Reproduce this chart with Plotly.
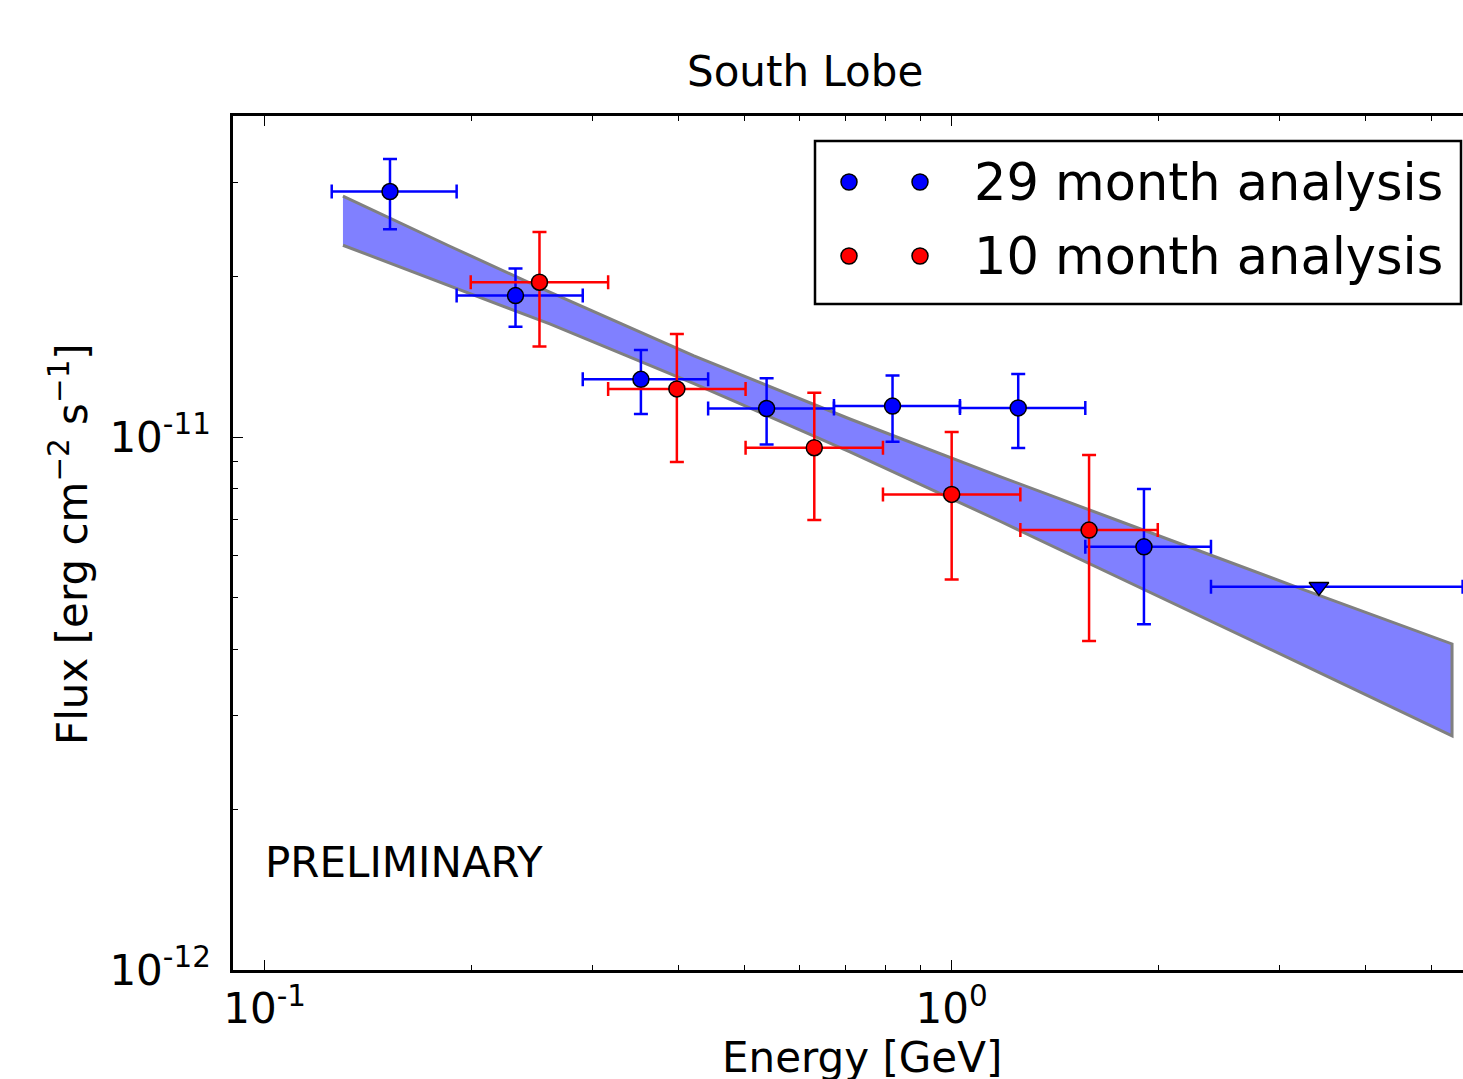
import plotly.graph_objects as go

# ---- 29 month analysis (energy in GeV, flux in erg cm^-2 s^-1) ----
e29 = [0.1522, 0.2318, 0.3529, 0.5378, 0.8202, 1.2499, 1.905]
e29_lo = [0.1252, 0.1903, 0.2904, 0.4421, 0.6740, 1.0282, 1.5650]
e29_hi = [0.1903, 0.2904, 0.4421, 0.6740, 1.0282, 1.5650, 2.3848]
f29 = [2.888e-11, 1.842e-11, 1.283e-11, 1.131e-11, 1.143e-11, 1.134e-11, 6.222e-12]
f29_lo = [2.455e-11, 1.611e-11, 1.105e-11, 9.681e-12, 9.799e-12, 9.536e-12, 4.455e-12]
f29_hi = [3.323e-11, 2.071e-11, 1.457e-11, 1.289e-11, 1.304e-11, 1.313e-11, 7.987e-12]

# upper limit (29 month)
e29_ul = [3.4245]
e29_ul_lo = [2.3848]
e29_ul_hi = [5.543]
f29_ul = [5.234e-12]

# ---- 10 month analysis ----
e10 = [0.2512, 0.3981, 0.6310, 1.0, 1.5849]
e10_lo = [0.1995, 0.3162, 0.5012, 0.7943, 1.2589]
e10_hi = [0.3162, 0.5012, 0.7943, 1.2589, 1.9953]
f10 = [1.952e-11, 1.231e-11, 9.548e-12, 7.805e-12, 6.689e-12]
f10_lo = [1.478e-11, 8.976e-12, 6.985e-12, 5.404e-12, 4.144e-12]
f10_hi = [2.424e-11, 1.561e-11, 1.211e-11, 1.022e-11, 9.252e-12]

# ---- fit band (butterfly) edges ----
band_e = [0.130, 0.186, 0.260, 0.4216, 0.711, 1.176, 1.944, 3.214, 5.35]
band_hi = [2.83e-11, 2.28e-11, 1.87e-11, 1.42e-11, 1.081e-11, 8.43e-12, 6.62e-12, 5.20e-12, 4.09e-12]
band_lo = [2.29e-11, 1.92e-11, 1.63e-11, 1.26e-11, 9.38e-12, 6.95e-12, 5.12e-12, 3.76e-12, 2.75e-12]

x_tickvals = [0.1, 1.0]
x_ticktext = ["10<sup>-1</sup>", "10<sup>0</sup>"]
y_tickvals = [1e-12, 1e-11]
y_ticktext = ["10<sup>-12</sup>", "10<sup>-11</sup>"]

legend_labels = ["29 month analysis", "10 month analysis"]

FONT = "DejaVu Sans"
BLUE = "#0000ff"
RED = "#ff0000"


def plus(v, hi):
    return [h - x for x, h in zip(v, hi)]


def minus(v, lo):
    return [x - l for x, l in zip(v, lo)]


fig = go.Figure()

# band
fig.add_trace(go.Scatter(
    x=band_e + band_e[::-1], y=band_hi + band_lo[::-1],
    mode="lines", fill="toself", fillcolor="#8080ff",
    line=dict(color="#808080", width=3), showlegend=False, hoverinfo="skip"))


def pts(x, xlo, xhi, y, ylo, yhi, color, name):
    return go.Scatter(
        x=x, y=y, mode="markers", name=name, showlegend=False,
        marker=dict(symbol="circle", size=16, color=color, line=dict(color="black", width=1.5)),
        error_x=dict(type="data", symmetric=False, array=plus(x, xhi), arrayminus=minus(x, xlo),
                     color=color, thickness=2.5, width=7),
        error_y=dict(type="data", symmetric=False, array=plus(y, yhi), arrayminus=minus(y, ylo),
                     color=color, thickness=2.5, width=7))


fig.add_trace(pts(e29, e29_lo, e29_hi, f29, f29_lo, f29_hi, BLUE, legend_labels[0]))
fig.add_trace(go.Scatter(
    x=e29_ul, y=f29_ul, mode="markers", showlegend=False,
    marker=dict(symbol="triangle-down", size=17, color=BLUE, line=dict(color="black", width=1.5)),
    error_x=dict(type="data", symmetric=False, array=plus(e29_ul, e29_ul_hi),
                 arrayminus=minus(e29_ul, e29_ul_lo), color=BLUE, thickness=2.5, width=7)))
fig.add_trace(pts(e10, e10_lo, e10_hi, f10, f10_lo, f10_hi, RED, legend_labels[1]))

# legend markers on a pixel-like overlay axis
leg_colors = [BLUE, RED]
leg_y = [182, 256]
for c, yy in zip(leg_colors, leg_y):
    fig.add_trace(go.Scatter(
        x=[849, 920], y=[yy, yy], xaxis="x2", yaxis="y2", mode="markers", showlegend=False,
        marker=dict(symbol="circle", size=16, color=c, line=dict(color="black", width=1.5)),
        hoverinfo="skip"))

W, H = 1463, 1079
L, R, T, B = 233, 0, 116, 109


def px(xp):
    return (xp - L) / (W - L - R)


def py(yp):
    return (H - B - yp) / (H - B - T)


minor_x = [m * 10 ** d for d in (-2, -1, 0) for m in range(2, 10)]
minor_y = [m * 10 ** d for d in (-13, -12, -11) for m in range(2, 10)]

axis_common = dict(
    type="log", showline=True, linecolor="black", linewidth=2.5,
    ticks="inside", ticklen=10, tickwidth=1, tickcolor="black",
    showgrid=False, zeroline=False,
    tickfont=dict(family=FONT, size=42, color="black"),
)

fig.update_layout(
    width=W, height=H,
    margin=dict(l=L, r=R, t=T, b=B),
    paper_bgcolor="white", plot_bgcolor="white",
    showlegend=False,
    xaxis=dict(axis_common, range=[-1.0461, 0.7443], mirror="allticks",
               tickmode="array", tickvals=x_tickvals, ticktext=x_ticktext,
               minor=dict(tickmode="array", tickvals=minor_x, ticks="inside", ticklen=5,
                          tickwidth=1, tickcolor="black", showgrid=False)),
    yaxis=dict(axis_common, range=[-12, -10.3977], mirror=False,
               tickmode="array", tickvals=y_tickvals, ticktext=y_ticktext,
               ticklabelstandoff=11,
               minor=dict(tickmode="array", tickvals=minor_y, ticks="inside", ticklen=5,
                          tickwidth=1, tickcolor="black", showgrid=False)),
    xaxis2=dict(overlaying="x", anchor="y2", range=[L, W - R], visible=False, fixedrange=True),
    yaxis2=dict(overlaying="y", anchor="x2", range=[H - B, T], visible=False, fixedrange=True),
    font=dict(family=FONT, color="black"),
)

# legend frame
fig.add_shape(type="rect", xref="x2", yref="y2", x0=815, x1=1461, y0=141, y1=304,
              line=dict(color="black", width=2.5), fillcolor="white", layer="below")

annots = []
for lab, yy in zip(legend_labels, leg_y):
    annots.append(dict(x=972, y=yy, xref="x2", yref="y2", text=lab, showarrow=False,
                       xanchor="left", yanchor="middle",
                       font=dict(family=FONT, size=51, color="black")))
annots.append(dict(x=263, y=862, xref="x2", yref="y2", text="PRELIMINARY", showarrow=False,
                   xanchor="left", yanchor="middle", font=dict(family=FONT, size=42, color="black")))
annots.append(dict(x=px(804.5), y=py(71), xref="paper", yref="paper", text="South Lobe",
                   showarrow=False, xanchor="center", yanchor="middle",
                   font=dict(family=FONT, size=42, color="black")))
annots.append(dict(x=px(861.5), y=py(1057), xref="paper", yref="paper", text="Energy [GeV]",
                   showarrow=False, xanchor="center", yanchor="middle",
                   font=dict(family=FONT, size=42, color="black")))
annots.append(dict(x=px(69), y=py(544), xref="paper", yref="paper",
                   text="Flux [erg cm<sup>\u22122</sup> s<sup>\u22121</sup>]",
                   showarrow=False, xanchor="center", yanchor="middle", textangle=-90,
                   font=dict(family=FONT, size=42, color="black")))
fig.update_layout(annotations=annots)

fig.write_html(
    "out.html",
    config={"displayModeBar": False},
    post_script="document.body.style.margin='0';document.body.style.padding='0';"
                "document.body.style.overflow='hidden';"
                "document.documentElement.style.overflow='hidden';",
)
